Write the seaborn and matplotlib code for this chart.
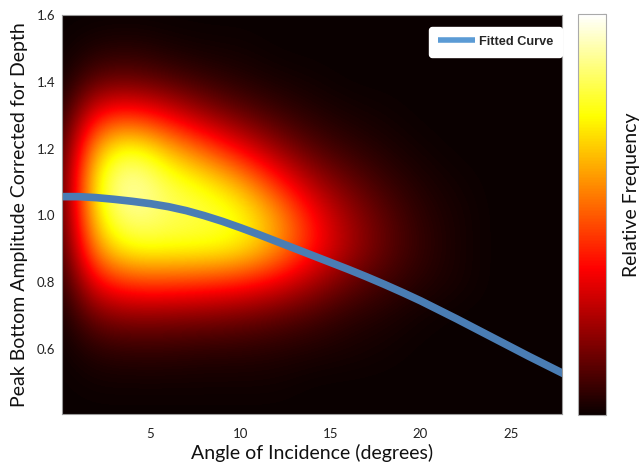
import numpy as np
import pandas as pd
import matplotlib
matplotlib.use("Agg")
import matplotlib.pyplot as plt
import seaborn as sns

# ---- data ----
# fitted curve
fit_angle = [0, 1, 2, 3, 4, 5, 6, 7, 8, 9, 10, 11, 12, 13, 14,
             15, 16, 17, 18, 19, 20, 21, 22, 23, 24, 25, 26, 27, 28]
fit_amp = [1.056, 1.056, 1.053, 1.048, 1.042, 1.035, 1.026, 1.014, 0.999, 0.982,
           0.963, 0.943, 0.922, 0.901, 0.880, 0.859, 0.838, 0.816, 0.793, 0.769,
           0.744, 0.717, 0.690, 0.662, 0.634, 0.606, 0.578, 0.551, 0.524]

# relative frequency grid (cell centres)
grid_angle = [0, 2, 4, 6, 8, 10, 12, 14, 16, 18, 20, 22, 24, 26, 28]
grid_amp = [0.4, 0.5, 0.6, 0.7, 0.8, 0.9, 1.0, 1.1, 1.2, 1.3, 1.4, 1.5, 1.6]
# each list is one angle column, values from amplitude 0.4 (bottom) to 1.6 (top)
col_00 = [0.00, 0.00, 0.00, 0.00, 0.01, 0.02, 0.03, 0.03, 0.02, 0.01, 0.00, 0.00, 0.00]
col_02 = [0.00, 0.01, 0.05, 0.17, 0.38, 0.62, 0.76, 0.80, 0.67, 0.40, 0.14, 0.03, 0.00]
col_04 = [0.00, 0.01, 0.06, 0.20, 0.46, 0.77, 0.90, 0.95, 0.80, 0.44, 0.15, 0.04, 0.00]
col_06 = [0.00, 0.01, 0.06, 0.19, 0.46, 0.76, 0.84, 0.81, 0.64, 0.34, 0.11, 0.02, 0.00]
col_08 = [0.00, 0.01, 0.05, 0.18, 0.44, 0.76, 0.82, 0.74, 0.50, 0.22, 0.07, 0.01, 0.00]
col_10 = [0.00, 0.01, 0.05, 0.16, 0.41, 0.73, 0.77, 0.62, 0.35, 0.14, 0.04, 0.01, 0.00]
col_12 = [0.00, 0.01, 0.04, 0.13, 0.34, 0.60, 0.61, 0.42, 0.21, 0.08, 0.02, 0.00, 0.00]
col_14 = [0.00, 0.00, 0.03, 0.09, 0.24, 0.40, 0.38, 0.24, 0.11, 0.04, 0.01, 0.00, 0.00]
col_16 = [0.00, 0.00, 0.02, 0.05, 0.14, 0.24, 0.22, 0.14, 0.06, 0.02, 0.00, 0.00, 0.00]
col_18 = [0.00, 0.00, 0.01, 0.03, 0.08, 0.13, 0.12, 0.07, 0.03, 0.01, 0.00, 0.00, 0.00]
col_20 = [0.00, 0.00, 0.00, 0.01, 0.04, 0.06, 0.05, 0.03, 0.01, 0.00, 0.00, 0.00, 0.00]
col_22 = [0.00, 0.00, 0.00, 0.00, 0.02, 0.02, 0.02, 0.01, 0.00, 0.00, 0.00, 0.00, 0.00]
col_24 = [0.00] * 13
col_26 = [0.00] * 13
col_28 = [0.00] * 13

x_ticks = [5, 10, 15, 20, 25]
y_ticks = [0.6, 0.8, 1.0, 1.2, 1.4, 1.6]

# ---- figure ----
sns.set_style("white")
plt.rcParams["font.family"] = ["Lato", "DejaVu Sans"]

fig = plt.figure(figsize=(6.42, 4.71), dpi=100)
ax = fig.add_axes([62 / 642, 57 / 471, 500 / 642, 399 / 471])
cax = fig.add_axes([578 / 642, 56 / 471, 28 / 642, 401 / 471])

grid = np.array([col_00, col_02, col_04, col_06, col_08, col_10, col_12, col_14,
                 col_16, col_18, col_20, col_22, col_24, col_26, col_28]).T
dx = grid_angle[1] - grid_angle[0]
dy = grid_amp[1] - grid_amp[0]
im = ax.imshow(grid, origin="lower", cmap="hot", vmin=0, vmax=1, aspect="auto",
               interpolation="bicubic",
               extent=[grid_angle[0] - dx / 2, grid_angle[-1] + dx / 2,
                       grid_amp[0] - dy / 2, grid_amp[-1] + dy / 2])

df = pd.DataFrame({"angle": fit_angle, "amp": fit_amp})
sns.lineplot(data=df, x="angle", y="amp", ax=ax, color="#4a7db4", lw=5.5,
             label="Fitted Curve", solid_capstyle="butt")

ax.set_xlim(0.1, 27.85)
ax.set_ylim(0.405, 1.6)
ax.set_xticks(x_ticks)
ax.set_xticklabels([str(t) for t in x_ticks])
ax.set_yticks(y_ticks)
ax.set_yticklabels([f"{t:.1f}" for t in y_ticks])
ax.tick_params(axis="both", direction="in", length=3, color="#888888",
               labelsize=9.5, labelcolor="#222222")
ax.tick_params(axis="x", pad=10)
ax.tick_params(axis="y", pad=5)
for s in ax.spines.values():
    s.set_color("#999999")
    s.set_linewidth(0.8)
ax.set_xlabel("Angle of Incidence (degrees)", fontsize=14, color="#111111", labelpad=3)
ax.set_ylabel("Peak Bottom Amplitude Corrected for Depth", fontsize=14,
              color="#111111", labelpad=6)

leg = ax.legend(loc="upper right", bbox_to_anchor=(1.0, 0.97), borderaxespad=0,
                frameon=True, fancybox=True, framealpha=1, edgecolor="white",
                prop={"family": ["Liberation Sans"], "weight": "bold", "size": 9.2},
                handlelength=2.9, handletextpad=0.25, borderpad=0.7)
for h in leg.get_lines():
    h.set_color("#5b9bd5")
    h.set_linewidth(4.0)

cb = fig.colorbar(im, cax=cax)
cb.set_ticks(np.linspace(0, 1, 11))
cb.ax.tick_params(direction="in", length=2, color="#777777", labelright=False, right=True)
cb.outline.set_edgecolor("#aaaaaa")
cb.outline.set_linewidth(0.8)
fig.text(632 / 642, 1 - 195 / 471, "Relative Frequency", rotation=90,
         ha="center", va="center", fontsize=14, color="#111111")

fig.savefig("out.png", dpi=100)
